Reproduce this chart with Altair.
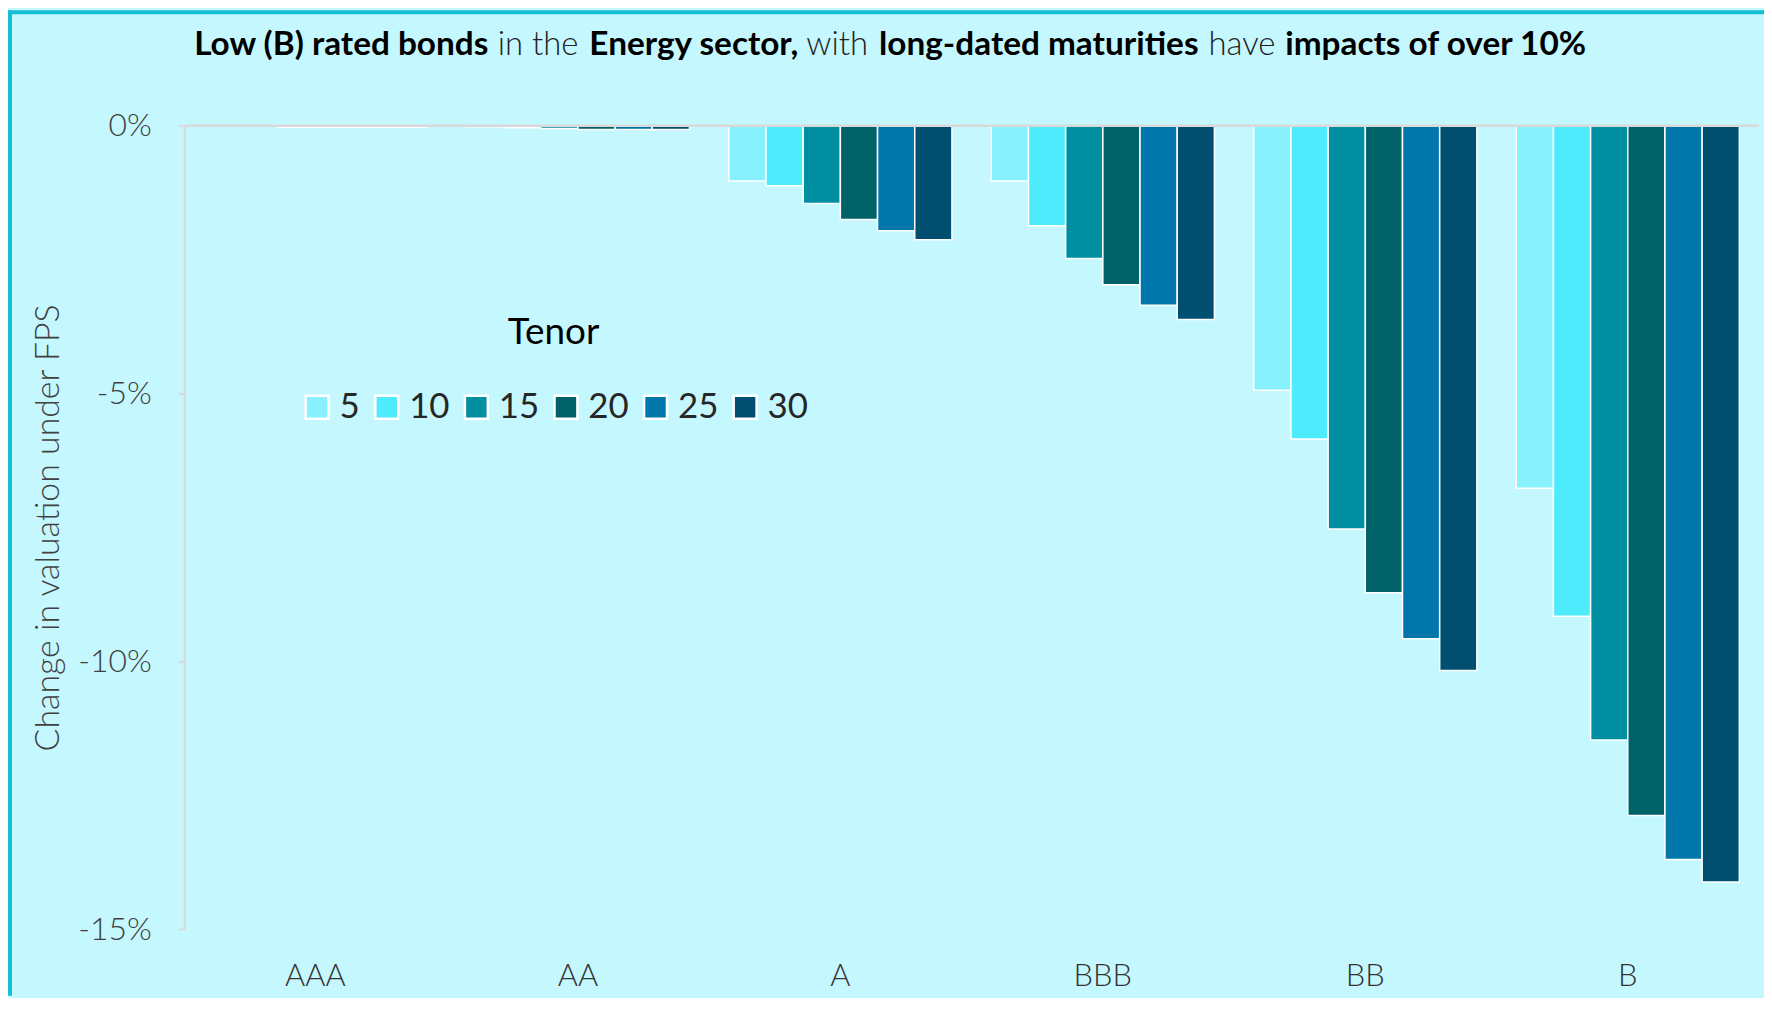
import altair as alt
import pandas as pd

ratings = ["AAA", "AA", "A", "BBB", "BB", "B"]
tenors = ["5", "10", "15", "20", "25", "30"]
# change in valuation (%) per rating, one list per tenor order 5..30
values = {
    "AAA": [-0.01, -0.01, -0.03, -0.03, -0.03, -0.03],
    "AA":  [-0.02, -0.04, -0.05, -0.07, -0.07, -0.07],
    "A":   [-1.03, -1.12, -1.45, -1.75, -1.96, -2.13],
    "BBB": [-1.03, -1.87, -2.48, -2.97, -3.35, -3.62],
    "BB":  [-4.94, -5.85, -7.53, -8.72, -9.58, -10.17],
    "B":   [-6.77, -9.16, -11.47, -12.88, -13.70, -14.12],
}
colors = ["#87F1FD", "#4EEBFC", "#008FA1", "#006169", "#0076AA", "#004F71"]
y_ticks = [0, -5, -10, -15]

title_parts = [
    ("Low (B) rated bonds", "bold"),
    ("in the", "light"),
    ("Energy sector,", "bold"),
    ("with", "light"),
    ("long-dated maturities", "bold"),
    ("have", "light"),
    ("impacts of over 10%", "bold"),
]
title_x = [10, 315, 407, 625, 698, 1029, 1106]

rows = []
for r in ratings:
    for t, v in zip(tenors, values[r]):
        rows.append({"Rating": r, "Tenor": t, "Value": v})
df = pd.DataFrame(rows)

W, H = 1582, 807
PL, PT, PR, PB = 177, 116, 5, 67
FONT = "Lato"
TXT = "#404040"

base = alt.Chart(df)

bars = base.mark_bar(stroke="white", strokeWidth=1.5).encode(
    x=alt.X("Rating:N", sort=ratings,
            scale=alt.Scale(paddingInner=0.15, paddingOuter=0.075),
            axis=alt.Axis(title=None, orient="bottom", domain=False, ticks=False,
                          labelPadding=33, labelFontSize=31, labelFont=FONT,
                          labelFontWeight=300, labelColor="#333333", labelAngle=0)),
    xOffset=alt.XOffset("Tenor:N", sort=tenors),
    y=alt.Y("Value:Q", scale=alt.Scale(domain=[-15, 0], nice=False, zero=False),
            axis=alt.Axis(values=y_ticks, labelExpr="datum.value + '%'",
                          title="Change in valuation under FPS",
                          titleFont=FONT, titleFontSize=34, titleFontWeight=300,
                          titleColor=TXT, titleAngle=270, titleX=-136, titleY=H / 2,
                          titleAlign="center", titleBaseline="middle",
                          labelFont=FONT, labelFontSize=32, labelFontWeight=300,
                          labelColor=TXT, labelPadding=27,
                          domainColor="#D9D9D9", domainWidth=2,
                          tickColor="#D9D9D9", tickWidth=2, tickSize=6,
                          grid=False)),
    color=alt.Color("Tenor:N", sort=tenors,
                    scale=alt.Scale(domain=tenors, range=colors),
                    legend=alt.Legend(title="Tenor", orient="none",
                                      legendX=116, legendY=190,
                                      direction="horizontal", columns=0,
                                      titleFont=FONT, titleFontSize=37,
                                      titleFontWeight=400, titleColor="#000000",
                                      titleAnchor="middle", titlePadding=38,
                                      labelFont=FONT, labelFontSize=35,
                                      labelFontWeight=400,
                                      labelColor="#262626", labelOffset=5,
                                      columnPadding=9, symbolType="square",
                                      symbolSize=529, symbolStrokeColor="white",
                                      symbolStrokeWidth=2.5, padding=0)),
)

zero = alt.Chart(pd.DataFrame({"v": [0]})).mark_rule(
    color="#D9D9D9", strokeWidth=2.5).encode(y=alt.Y("v:Q"))

layers = [bars, zero]
for (txt, w), xx in zip(title_parts, title_x):
    layers.append(
        alt.Chart(pd.DataFrame({"t": [txt]})).mark_text(
            align="left", baseline="alphabetic", font=FONT,
            fontSize=33.5 if w == "bold" else 33,
            fontWeight=700 if w == "bold" else 300,
            color="#000000" if w == "bold" else "#222222",
        ).encode(text="t:N", x=alt.value(xx), y=alt.value(-71))
    )

border_color = "#14BED3"
top_border = alt.Chart(pd.DataFrame({"a": [0]})).mark_rule(
    color=border_color, strokeWidth=4).encode(
    x=alt.value(-PL), x2=alt.value(W + PR), y=alt.value(-PT + 2))
left_border = alt.Chart(pd.DataFrame({"a": [0]})).mark_rule(
    color=border_color, strokeWidth=4).encode(
    x=alt.value(-PL + 2), y=alt.value(-PT), y2=alt.value(H + PB))
layers += [top_border, left_border]

chart = alt.layer(*layers).properties(
    width=W, height=H,
    autosize=alt.AutoSizeParams(type="none"),
    padding={"left": PL, "top": PT, "right": PR, "bottom": PB},
    background="#C5F7FE",
).configure_view(stroke=None, fill=None)

chart.save("out.html", embed_options={"renderer": "svg", "actions": False})
